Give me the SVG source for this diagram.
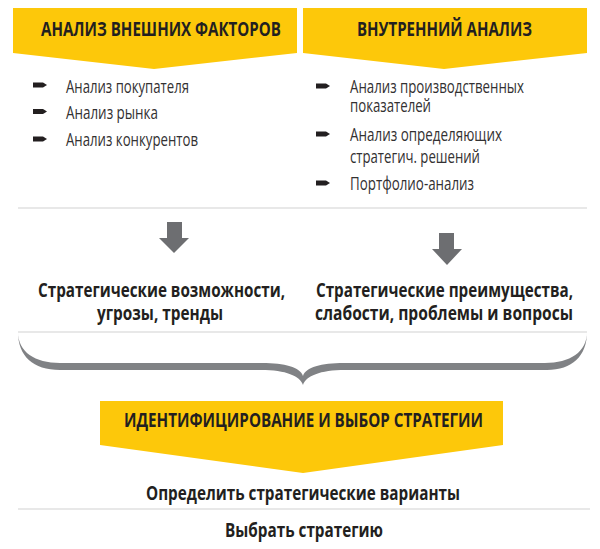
<svg xmlns="http://www.w3.org/2000/svg" width="600" height="549" viewBox="0 0 600 549">
<style>
.ban{fill:#fdc80a}
.hd{font-family:"Open Sans","Liberation Sans",sans-serif;font-weight:700;font-size:19.5px;fill:#231f20}
.it{font-family:"Open Sans","Liberation Sans",sans-serif;font-weight:400;font-size:19px;fill:#333132}
.bd{font-family:"Open Sans","Liberation Sans",sans-serif;font-weight:700;font-size:19.5px;fill:#231f20}
.bul{fill:#231f20}
.sep{stroke:#d2d2d2;stroke-width:1.2;fill:none}
.arr{fill:#6d6e71}
.brace{fill:#808285}
</style>
<defs>
<polygon id="bullet" points="0,-2.6 10,-2.6 14,0 10,2.6 0,2.6"/>
</defs>

<g id="external-analysis">
<polygon class="ban" points="13,8 297,8 297,53 154,69 13,53"/>
<text class="hd" x="41" y="36" textLength="240" lengthAdjust="spacingAndGlyphs">АНАЛИЗ ВНЕШНИХ ФАКТОРОВ</text>
<use href="#bullet" class="bul" x="33" y="85"/>
<text class="it" x="66" y="93" textLength="123" lengthAdjust="spacingAndGlyphs">Анализ покупателя</text>
<use href="#bullet" class="bul" x="33" y="111.5"/>
<text class="it" x="66" y="119" textLength="92" lengthAdjust="spacingAndGlyphs">Анализ рынка</text>
<use href="#bullet" class="bul" x="33" y="139"/>
<text class="it" x="66" y="146" textLength="132" lengthAdjust="spacingAndGlyphs">Анализ конкурентов</text>
</g>

<g id="internal-analysis">
<polygon class="ban" points="303,8 587,8 587,53 444,69 303,53"/>
<text class="hd" x="357" y="36" textLength="175" lengthAdjust="spacingAndGlyphs">ВНУТРЕННИЙ АНАЛИЗ</text>
<use href="#bullet" class="bul" x="316" y="86"/>
<text class="it" x="350" y="93" textLength="174" lengthAdjust="spacingAndGlyphs">Анализ производственных</text>
<text class="it" x="350" y="112" textLength="81" lengthAdjust="spacingAndGlyphs">показателей</text>
<use href="#bullet" class="bul" x="316" y="134"/>
<text class="it" x="350" y="141" textLength="152" lengthAdjust="spacingAndGlyphs">Анализ определяющих</text>
<text class="it" x="350" y="163" textLength="130" lengthAdjust="spacingAndGlyphs">стратегич. решений</text>
<use href="#bullet" class="bul" x="316" y="183"/>
<text class="it" x="350" y="190" textLength="124" lengthAdjust="spacingAndGlyphs">Портфолио-анализ</text>
</g>

<g id="separators">
<line class="sep" x1="18" y1="208" x2="587" y2="208"/>
<line class="sep" x1="18" y1="332" x2="587" y2="332"/>
<line class="sep" x1="18" y1="509" x2="590" y2="509"/>
</g>

<g id="opportunities">
<text class="bd" x="38" y="297" textLength="247" lengthAdjust="spacingAndGlyphs">Стратегические возможности,</text>
<text class="bd" x="97" y="320" textLength="126" lengthAdjust="spacingAndGlyphs">угрозы, тренды</text>
</g>

<g id="advantages">
<text class="bd" x="316" y="297" textLength="257" lengthAdjust="spacingAndGlyphs">Стратегические преимущества,</text>
<text class="bd" x="315" y="320" textLength="258" lengthAdjust="spacingAndGlyphs">слабости, проблемы и вопросы</text>
</g>

<g id="connectors">
<g id="arrow-left">
<rect class="arr" x="167" y="222" width="15" height="16.5"/>
<polygon class="arr" points="159,238 189,238 174,253"/>
</g>
<g id="arrow-right">
<rect class="arr" x="439" y="233" width="15" height="16.5"/>
<polygon class="arr" points="432,249 462,249 447,265"/>
</g>
<path id="brace" class="brace" d="M18,332 C18,352 35,363 60,363 L262,363 C285,363 300,367 303,376 C306,367 321,363 344,363 L545,363 C570,363 587,352 587,332 C587,356 572,370 547,370 L345,370 C320,370 306,376 303,385 C300,376 286,370 261,370 L60,370 C33,370 18,356 18,332 Z"/>
</g>

<g id="strategy-selection">
<polygon class="ban" points="100,401 503,401 503,445 303,473 100,445"/>
<text class="hd" x="124" y="427" textLength="359" lengthAdjust="spacingAndGlyphs">ИДЕНТИФИЦИРОВАНИЕ И ВЫБОР СТРАТЕГИИ</text>
</g>

<g id="define-options">
<text class="bd" x="146" y="500" textLength="314" lengthAdjust="spacingAndGlyphs">Определить стратегические варианты</text>
</g>

<g id="choose-strategy">
<text class="bd" x="225" y="537" textLength="158" lengthAdjust="spacingAndGlyphs">Выбрать стратегию</text>
</g>
</svg>
